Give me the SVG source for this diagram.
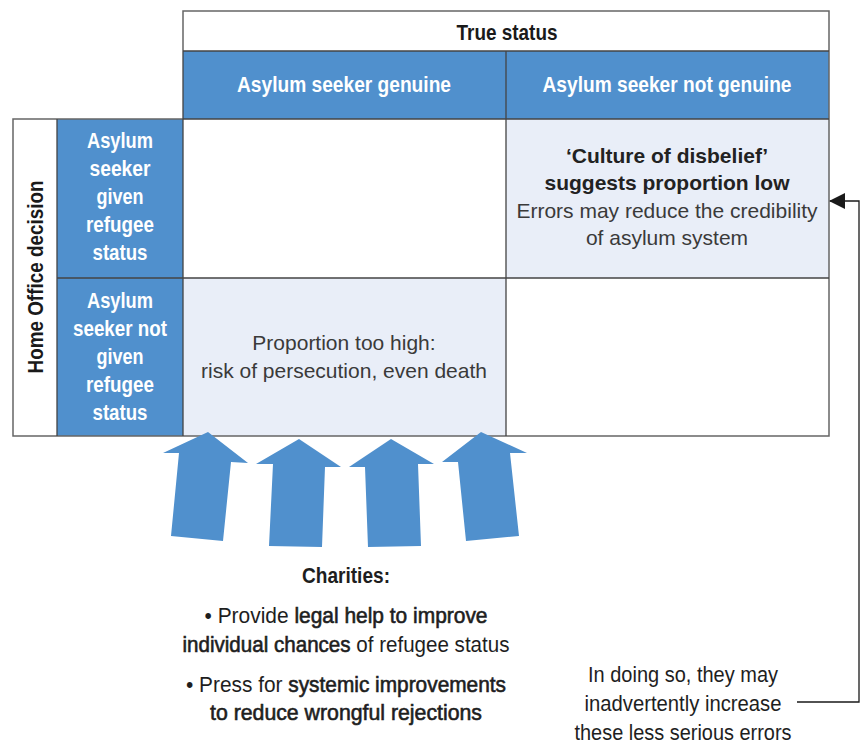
<svg xmlns="http://www.w3.org/2000/svg" width="865" height="746" viewBox="0 0 865 746">
<defs>
<style>
.cond{font-family:"Liberation Sans",Arial,sans-serif}
.hw{fill:#ffffff;font-weight:bold;font-size:22px;text-anchor:middle}
.hk{fill:#1a1a1a;font-weight:bold;font-size:22px;text-anchor:middle}
.body{font-family:"Liberation Sans",Arial,sans-serif;font-size:21px;text-anchor:middle;fill:#3a3a3a}
.bodyb{font-family:"Liberation Sans",Arial,sans-serif;font-size:21px;text-anchor:middle;fill:#222;font-weight:bold}
.note{fill:#1e1e1e;font-size:22px;text-anchor:middle}
.em{stroke:#1e1e1e;stroke-width:0.6}
.blue{fill:#5090cd}
.light{fill:#e9eef8}
.grid{fill:none;stroke:#444;stroke-width:1.3}
.outer{fill:none;stroke:#666;stroke-width:1.5}
.arr{fill:#5090cd}
</style>
<marker id="head" viewBox="0 0 16 16" refX="15" refY="8" markerWidth="16" markerHeight="16" markerUnits="userSpaceOnUse" orient="auto">
<path d="M0,0 L16,8 L0,16 Z" fill="#1a1a1a"/>
</marker>
</defs>
<rect width="865" height="746" fill="#ffffff"/>

<g id="table">
<rect x="183" y="11" width="646" height="40" fill="#ffffff"/>
<rect x="183" y="51" width="646" height="68" class="blue"/>
<rect x="57" y="119" width="126" height="317" class="blue"/>
<rect x="13" y="119" width="44" height="317" fill="#ffffff"/>
<rect x="183" y="119" width="323" height="159" fill="#ffffff"/>
<rect x="506" y="119" width="323" height="159" class="light"/>
<rect x="183" y="278" width="323" height="158" class="light"/>
<rect x="506" y="278" width="323" height="158" fill="#ffffff"/>
<path class="outer" d="M183,51 V11 H829 V436 H13 V119 H183"/>
<path class="grid" d="M183,51 H829 M183,119 H829 M57,119 V436 M183,51 V436 M506,51 V436 M57,278 H829"/>
</g>

<g id="header-true-status">
<text class="cond hk" x="507" y="40" textLength="101" lengthAdjust="spacingAndGlyphs">True status</text>
</g>
<g id="header-genuine">
<text class="cond hw" x="344" y="92" textLength="214" lengthAdjust="spacingAndGlyphs">Asylum seeker genuine</text>
</g>
<g id="header-not-genuine">
<text class="cond hw" x="667" y="92" textLength="249" lengthAdjust="spacingAndGlyphs">Asylum seeker not genuine</text>
</g>
<g id="label-home-office">
<text class="cond hk" transform="translate(43,277) rotate(-90)" x="0" y="0" textLength="193" lengthAdjust="spacingAndGlyphs">Home Office decision</text>
</g>
<g id="row-given">
<text class="cond hw" x="120" y="148" textLength="66" lengthAdjust="spacingAndGlyphs">Asylum</text>
<text class="cond hw" x="120" y="176" textLength="61" lengthAdjust="spacingAndGlyphs">seeker</text>
<text class="cond hw" x="120" y="204" textLength="47" lengthAdjust="spacingAndGlyphs">given</text>
<text class="cond hw" x="120" y="232" textLength="68" lengthAdjust="spacingAndGlyphs">refugee</text>
<text class="cond hw" x="120" y="260" textLength="55" lengthAdjust="spacingAndGlyphs">status</text>
</g>
<g id="row-not-given">
<text class="cond hw" x="120" y="308" textLength="66" lengthAdjust="spacingAndGlyphs">Asylum</text>
<text class="cond hw" x="120" y="336" textLength="94" lengthAdjust="spacingAndGlyphs">seeker not</text>
<text class="cond hw" x="120" y="364" textLength="47" lengthAdjust="spacingAndGlyphs">given</text>
<text class="cond hw" x="120" y="392" textLength="68" lengthAdjust="spacingAndGlyphs">refugee</text>
<text class="cond hw" x="120" y="420" textLength="55" lengthAdjust="spacingAndGlyphs">status</text>
</g>
<g id="cell-false-positive">
<text class="bodyb" x="667" y="163">‘Culture of disbelief’</text>
<text class="bodyb" x="667" y="190">suggests proportion low</text>
<text class="body" x="667" y="218">Errors may reduce the credibility</text>
<text class="body" x="667" y="245">of asylum system</text>
</g>
<g id="cell-false-negative">
<text class="body" x="344" y="350" font-size="21.5">Proportion too high:</text>
<text class="body" x="344" y="378" font-size="21.5">risk of persecution, even death</text>
</g>

<g id="arrows">
<path class="arr" d="M208,432 L248,463 L231,462 L223,541 L171,536 L179,453 L163,453 Z"/>
<path class="arr" d="M299,439 L341,467 L325,467 L322,547 L269,546 L273,464 L256,464 Z"/>
<path class="arr" d="M391,439 L434,464 L418,464 L421,546 L368,547 L365,467 L349,467 Z"/>
<path class="arr" d="M481,432 L527,453 L510,453 L519,536 L466,541 L458,462 L442,462 Z"/>
</g>

<g id="charities">
<text class="cond note" x="346" y="583" font-weight="bold" font-size="23" textLength="88" lengthAdjust="spacingAndGlyphs">Charities:</text>
<text class="cond note" x="346" y="623" textLength="283" lengthAdjust="spacingAndGlyphs">• Provide <tspan class="em">legal help to improve</tspan></text>
<text class="cond note" x="346" y="652" textLength="327" lengthAdjust="spacingAndGlyphs"><tspan class="em">individual chances</tspan> of refugee status</text>
<text class="cond note" x="346" y="692" textLength="320" lengthAdjust="spacingAndGlyphs">• Press for <tspan class="em">systemic improvements</tspan></text>
<text class="cond note" x="346" y="720" textLength="272" lengthAdjust="spacingAndGlyphs"><tspan class="em">to reduce wrongful rejections</tspan></text>
</g>

<g id="side-note">
<text class="cond note" x="683" y="682" textLength="190" lengthAdjust="spacingAndGlyphs">In doing so, they may</text>
<text class="cond note" x="683" y="711" textLength="197" lengthAdjust="spacingAndGlyphs">inadvertently increase</text>
<text class="cond note" x="683" y="740" textLength="217" lengthAdjust="spacingAndGlyphs">these less serious errors</text>
</g>

<g id="connectors">
<polyline points="797,702 859,702 859,201 830,201" fill="none" stroke="#1a1a1a" stroke-width="1.3" marker-end="url(#head)"/>
</g>
</svg>
